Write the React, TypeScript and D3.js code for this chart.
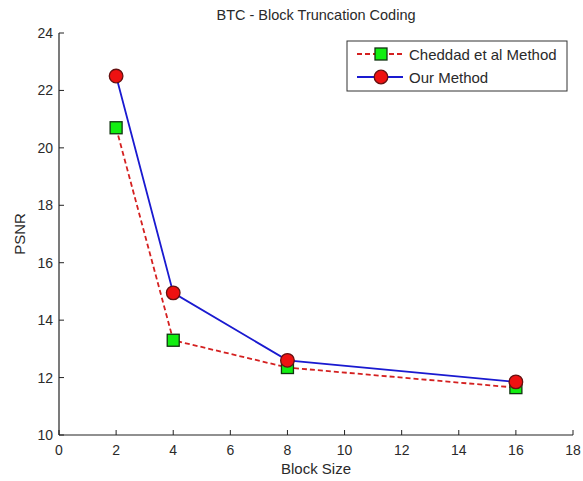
import React from "react";
import * as d3 from "d3";

const blockSizes = [2, 4, 8, 16];
const cheddad = [20.7, 13.3, 12.35, 11.65];
const ours = [22.5, 14.95, 12.6, 11.85];
const xTicks = [0, 2, 4, 6, 8, 10, 12, 14, 16, 18];
const yTicks = [10, 12, 14, 16, 18, 20, 22, 24];
const seriesNames = ["Cheddad et al Method", "Our Method"];

const W = 583, H = 481;
const left = 59, right = 573, top = 33, bottom = 435;

export default function App() {
  const x = d3.scaleLinear().domain([0, 18]).range([left, right]);
  const y = d3.scaleLinear().domain([10, 24]).range([bottom, top]);
  const line = d3.line<[number, number]>().x(d => x(d[0])).y(d => y(d[1]));
  const cData = blockSizes.map((b, i) => [b, cheddad[i]] as [number, number]);
  const oData = blockSizes.map((b, i) => [b, ours[i]] as [number, number]);
  const font = "Arial, 'Liberation Sans', sans-serif";
  const red = "#d42020";
  const blue = "#1a1ad0";
  const sq = 12;
  const txt = "#2a2a2a";
  return (
    <svg width={W} height={H} style={{ position: "absolute", left: 0, top: 0 }} fontFamily={font}>
      <rect width={W} height={H} fill="#fff" />
      <text x={(left + right) / 2} y={20} textAnchor="middle" fontSize={14.5} fill={txt}>BTC - Block Truncation Coding</text>
      {/* axes */}
      <line x1={left} y1={top} x2={left} y2={bottom} stroke="#222" strokeWidth={1.2} />
      <line x1={left} y1={bottom} x2={right} y2={bottom} stroke="#222" strokeWidth={1.2} />
      {xTicks.map(t => (
        <g key={"x" + t}>
          <line x1={x(t)} x2={x(t)} y1={bottom} y2={bottom - 5} stroke="#222" />
          <text x={x(t)} y={bottom + 20} textAnchor="middle" fontSize={14} fill={txt}>{t}</text>
        </g>
      ))}
      {yTicks.map(t => (
        <g key={"y" + t}>
          <line x1={left} x2={left + 5} y1={y(t)} y2={y(t)} stroke="#222" />
          <text x={left - 6} y={y(t) + 5} textAnchor="end" fontSize={14} fill={txt}>{t}</text>
        </g>
      ))}
      <text x={(left + right) / 2} y={474} textAnchor="middle" fontSize={15} fill={txt}>Block Size</text>
      <text transform={`translate(25, ${(top + bottom) / 2}) rotate(-90)`} textAnchor="middle" fontSize={15} fill={txt}>PSNR</text>
      {/* series */}
      <path d={line(cData) || ""} fill="none" stroke={red} strokeWidth={1.8} strokeDasharray="5,3" />
      <path d={line(oData) || ""} fill="none" stroke={blue} strokeWidth={1.8} />
      {cData.map((d, i) => (
        <rect key={"c" + i} x={x(d[0]) - sq / 2} y={y(d[1]) - sq / 2} width={sq} height={sq} fill="#11ee11" stroke="#113311" strokeWidth={1.3} />
      ))}
      {oData.map((d, i) => (
        <circle key={"o" + i} cx={x(d[0])} cy={y(d[1])} r={6.8} fill="#ee1111" stroke="#661111" strokeWidth={1.3} />
      ))}
      {/* legend */}
      <rect x={347} y={41} width={220} height={50} fill="#fff" stroke="#333" strokeWidth={1} />
      <line x1={357} x2={403} y1={54} y2={54} stroke={red} strokeWidth={1.8} strokeDasharray="5,3" />
      <rect x={381 - sq / 2} y={54 - sq / 2} width={sq} height={sq} fill="#11ee11" stroke="#113311" strokeWidth={1.3} />
      <text x={409} y={59.5} fontSize={15} fill={txt}>{seriesNames[0]}</text>
      <line x1={357} x2={403} y1={77} y2={77} stroke={blue} strokeWidth={1.8} />
      <circle cx={381} cy={77} r={6.8} fill="#ee1111" stroke="#661111" strokeWidth={1.3} />
      <text x={409} y={82.5} fontSize={15} fill={txt}>{seriesNames[1]}</text>
    </svg>
  );
}
